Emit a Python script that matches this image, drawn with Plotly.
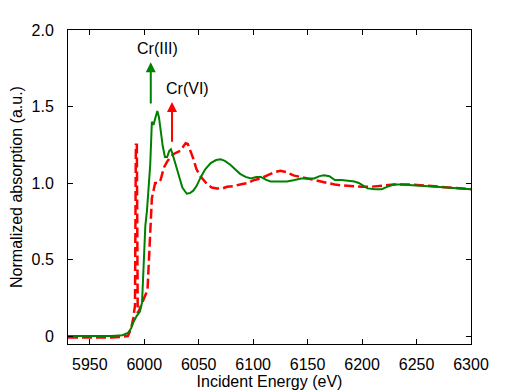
import plotly.graph_objects as go

# Cr(III) - green solid
e3 = [5930, 5950, 5970, 5980, 5985, 5988, 5990, 5993, 5996, 5998, 5999.5, 6001, 6002.5, 6004, 6005.5, 6007,
      6008.5, 6010, 6012, 6013.5, 6015, 6017, 6019, 6021, 6023, 6024.5, 6026, 6028, 6031, 6035, 6039, 6042,
      6045, 6048, 6052, 6056, 6061, 6066, 6070, 6074, 6079, 6084, 6088, 6093, 6098, 6103, 6107, 6112, 6116,
      6124, 6131, 6138, 6144, 6150, 6156, 6161, 6165, 6170, 6175, 6181, 6188, 6193, 6197, 6201, 6205, 6212,
      6218, 6223, 6229, 6236, 6245, 6262, 6278, 6290, 6300]
a3 = [0.0, 0.0, 0.0, 0.005, 0.02, 0.05, 0.09, 0.13, 0.16, 0.22, 0.54, 0.72, 0.82, 0.95, 1.12, 1.40,
      1.38, 1.42, 1.47, 1.43, 1.34, 1.24, 1.17, 1.17, 1.21, 1.22, 1.19, 1.14, 1.06, 0.97, 0.93, 0.935,
      0.95, 0.98, 1.04, 1.09, 1.13, 1.15, 1.155, 1.145, 1.12, 1.09, 1.06, 1.04, 1.03, 1.04, 1.04, 1.02, 1.01,
      1.01, 1.01, 1.02, 1.03, 1.03, 1.03, 1.045, 1.05, 1.045, 1.02, 1.02, 1.015, 1.01, 1.0, 0.985, 0.965, 0.96,
      0.96, 0.975, 0.99, 0.99, 0.985, 0.98, 0.97, 0.965, 0.96]

# Cr(VI) - red dashed
e6 = [5930, 5950, 5970, 5980, 5985, 5988, 5990, 5991.5, 5992.3, 5993.2, 5994, 5996, 5998, 6000, 6003, 6005,
      6007, 6010, 6013, 6015, 6018, 6021, 6024, 6027, 6030, 6033, 6036, 6038, 6040, 6042, 6045, 6048, 6052,
      6058, 6062, 6067, 6072, 6076, 6082, 6088, 6095, 6101, 6107, 6113, 6119, 6125, 6131, 6137, 6143, 6150,
      6156, 6162, 6168, 6175, 6181, 6188, 6194, 6200, 6207, 6215, 6222, 6229, 6245, 6262, 6280, 6300]
a6 = [-0.01, -0.01, -0.01, -0.005, 0.0, 0.05, 0.12, 0.2, 1.25, 1.25, 0.15, 0.18, 0.22, 0.25, 0.3, 0.6,
      0.9, 1.0, 1.0, 1.02, 1.1, 1.14, 1.17, 1.19, 1.2, 1.21, 1.24, 1.26, 1.255, 1.22, 1.16, 1.09, 1.04,
      0.99, 0.97, 0.965, 0.965, 0.975, 0.98, 0.99, 1.0, 1.02, 1.03, 1.05, 1.07, 1.08, 1.07, 1.05, 1.04, 1.03,
      1.02, 1.01, 1.0, 0.99, 0.985, 0.98, 0.975, 0.975, 0.975, 0.98, 0.985, 0.99, 0.99, 0.98, 0.97, 0.96]

xticks = [5950, 6000, 6050, 6100, 6150, 6200, 6250, 6300]
yticks = [0, 0.5, 1.0, 1.5, 2.0]
yticktext = ["0", "0.5", "1.0", "1.5", "2.0"]

FONT = "Liberation Sans, Arial"

fig = go.Figure()
fig.add_trace(go.Scatter(x=e6, y=a6, mode="lines", line=dict(color="#ff0000", width=2.5, dash="10px,4px"),
                         showlegend=False))
fig.add_trace(go.Scatter(x=e3, y=a3, mode="lines", line=dict(color="#008000", width=2),
                         showlegend=False))

fig.add_annotation(x=6006, y=1.79, ax=6006, ay=1.51, xref="x", yref="y", axref="x", ayref="y",
                   showarrow=True, arrowhead=2, arrowsize=1, arrowwidth=2, arrowcolor="#008000", text="")
fig.add_annotation(x=6025.5, y=1.53, ax=6025.5, ay=1.26, xref="x", yref="y", axref="x", ayref="y",
                   showarrow=True, arrowhead=2, arrowsize=1, arrowwidth=2, arrowcolor="#ff0000", text="")
fig.add_annotation(x=6012, y=1.88, text="Cr(III)", showarrow=False,
                   font=dict(family=FONT, size=16, color="black"))
fig.add_annotation(x=6040, y=1.62, text="Cr(VI)", showarrow=False,
                   font=dict(family=FONT, size=16, color="black"))

axis_common = dict(showline=True, linecolor="black", linewidth=1, mirror="ticks", ticks="inside",
                   ticklen=5, tickcolor="black", showgrid=False, zeroline=False, automargin=False,
                   tickfont=dict(family=FONT, size=16, color="black"))
fig.update_xaxes(range=[5930, 6300], tickvals=xticks, ticklabelstandoff=6,
                 title=dict(text="Incident Energy (eV)", standoff=2,
                            font=dict(family=FONT, size=16, color="black")),
                 **axis_common)
fig.update_yaxes(range=[-0.052, 2.0], tickvals=yticks, ticktext=yticktext, ticklabelstandoff=10,
                 title=dict(text="Normalized absorption (a.u.)", standoff=4,
                            font=dict(family=FONT, size=16, color="black")),
                 **axis_common)
# page body adds an 8px offset; margins compensate so the plot area lands at x 68-471, y 30-344
fig.update_layout(width=520, height=390, margin=dict(l=60, r=57, t=22, b=54),
                  plot_bgcolor="white", paper_bgcolor="white")
fig.write_html("out.html")
